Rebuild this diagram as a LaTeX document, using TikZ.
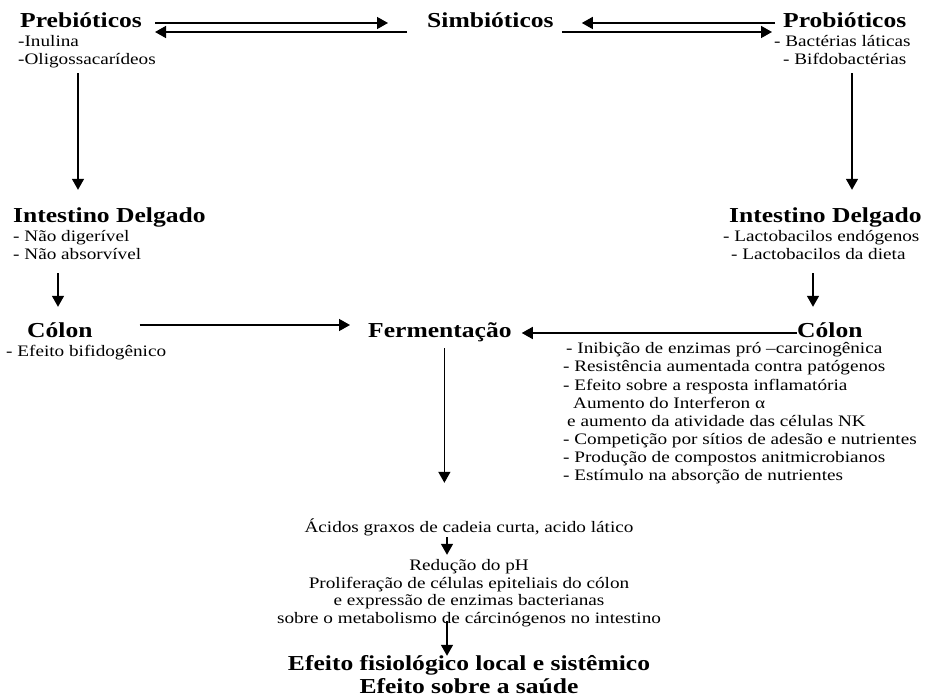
\documentclass[tikz,border=0pt]{standalone}
\usepackage{fontspec}
\setmainfont{Liberation Serif}[FakeStretch=1.2]
\usetikzlibrary{arrows.meta}
\tikzset{
  hd/.style={font=\fontsize{21.3pt}{22pt}\selectfont\bfseries, inner sep=0pt, text height=14pt, text depth=4pt, anchor=base west},
  sm/.style={font=\fontsize{16pt}{18pt}\selectfont, inner sep=0pt, text height=11pt, text depth=3.5pt, anchor=base west},
  arr/.style={line width=1.5pt, -{Triangle[length=11pt,width=12pt]}}
}
\begin{document}
\begin{tikzpicture}[x=1pt,y=-1pt]
\useasboundingbox (0,0) rectangle (926,700);
% headings
\node[hd] (pre) at (20,28) {Prebióticos};
\node[hd] (sim) at (427,28) {Simbióticos};
\node[hd] (pro) at (783,28) {Probióticos};
\node[hd] (lid) at (13,223) {Intestino Delgado};
\node[hd] (rid) at (729,223) {Intestino Delgado};
\node[hd] (lco) at (27,338) {Cólon};
\node[hd] (fer) at (368,338) {Fermentação};
\node[hd] (rco) at (797,338) {Cólon};
\node[hd, anchor=base] (ef1) at (469,670) {Efeito fisiológico local e sistêmico};
\node[hd, anchor=base] (ef2) at (469,693) {Efeito sobre a saúde};
% lists
\node[sm] (pl1) at (18,47) {-Inulina};
\node[sm] (pl2) at (18,65) {-Oligossacarídeos};
\node[sm] (rp1) at (774,47) {- Bactérias láticas};
\node[sm] (rp2) at (783,65) {- Bifdobactérias};
\node[sm] (ld1) at (13,242) {- Não digerível};
\node[sm] (ld2) at (13,260) {- Não absorvível};
\node[sm] (rd1) at (723,242) {- Lactobacilos endógenos};
\node[sm] (rd2) at (731,260) {- Lactobacilos da dieta};
\node[sm] (lc1) at (6,357) {- Efeito bifidogênico};
\node[sm] (rc1) at (566,354) {- Inibição de enzimas pró –carcinogênica};
\node[sm] (rc2) at (563,372) {- Resistência aumentada contra patógenos};
\node[sm] (rc3) at (563,390) {- Efeito sobre a resposta inflamatória};
\node[sm] (rc4) at (573,408) {Aumento do Interferon α};
\node[sm] (rc5) at (567,426) {e aumento da atividade das células NK};
\node[sm] (rc6) at (563,444) {- Competição por sítios de adesão e nutrientes};
\node[sm] (rc7) at (563,462) {- Produção de compostos anitmicrobianos};
\node[sm] (rc8) at (563,480) {- Estímulo na absorção de nutrientes};
\node[sm, anchor=base] (b1) at (469,532) {Ácidos graxos de cadeia curta, acido lático};
\node[sm, anchor=base] (b2) at (469,570) {Redução do pH};
\node[sm, anchor=base] (b3) at (469,588) {Proliferação de células epiteliais do cólon};
\node[sm, anchor=base] (b4) at (469,605) {e expressão de enzimas bacterianas};
\node[sm, anchor=base] (b5) at (469,623) {sobre o metabolismo de cárcinógenos no intestino};
% top arrows
\draw[arr] ([xshift=13pt]pre.east) -- ([xshift=-39pt]sim.west);
\draw[arr] ([xshift=-20pt,yshift=-9pt]sim.west) -- ([xshift=13pt,yshift=-9pt]pre.east);
\draw[arr] ([xshift=-8pt]pro.west) -- ([xshift=28pt]sim.east);
\draw[arr] ([xshift=8pt,yshift=-9pt]sim.east) -- ([xshift=-11pt,yshift=-9pt]pro.west);
% vertical arrows
\draw[arr, shorten <=4.5pt, shorten >=19pt] ([xshift=60pt]pl2.south west) -- ([xshift=60pt]pl2.south west |- lid.north);
\draw[arr, shorten <=4.5pt, shorten >=19pt] ([xshift=69pt]rp2.south west) -- ([xshift=69pt]rp2.south west |- rid.north);
\draw[arr, shorten <=9.5pt, shorten >=17pt] ([xshift=45pt]ld2.south west) -- ([xshift=45pt]ld2.south west |- lco.north);
\draw[arr, shorten <=9.5pt, shorten >=17pt] ([xshift=82pt]rd2.south west) -- ([xshift=82pt]rd2.south west |- rco.north);
% colon -> fermentacao
\draw[arr] ([xshift=47pt,yshift=8pt]lco.east) -- ([xshift=-18pt,yshift=8pt]fer.west);
\draw[arr] (rco.west) -- ([xshift=10pt]fer.east);
% down
\draw[arr, shorten <=6pt, shorten >=38pt] ([xshift=4.5pt]fer.south) -- ([xshift=4.5pt]fer.south |- b1.north);
\draw[arr, shorten <=1.5pt, shorten >=4pt] ([xshift=-22pt]b1.south) -- ([xshift=-22pt]b1.south |- b2.north);
\draw[arr] ([xshift=-22pt,yshift=2pt]b5.base) -- ([xshift=-22pt]b5.base |- ef1.north);
\end{tikzpicture}
\end{document}
